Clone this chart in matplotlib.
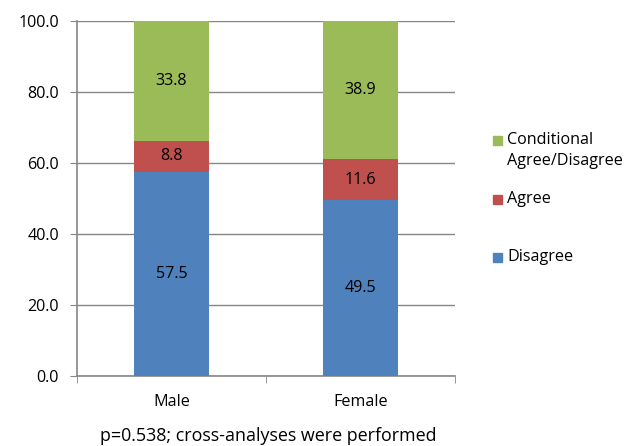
import numpy as np
import matplotlib.pyplot as plt
from matplotlib.patches import Rectangle

plt.rcParams['font.family'] = ['Open Sans', 'DejaVu Sans']

groups = ['Male', 'Female']
series = ['Disagree', 'Agree', 'Conditional\nAgree/Disagree']
disagree = [57.5, 49.5]
agree = [8.8, 11.6]
conditional = [33.8, 38.9]
colors = ['#4F81BD', '#C0504D', '#9BBB59']

values = [disagree, agree, conditional]
fs = 11.6

fig = plt.figure(figsize=(6.33, 4.46), dpi=100)
ax = fig.add_axes([0.1216, 0.157, 0.597, 0.796])

x = np.arange(len(groups))
bottom = np.zeros(len(groups))
for vals, col in zip(values, colors):
    vals = np.array(vals)
    ax.bar(x, vals, width=0.4, bottom=bottom, color=col, zorder=3)
    for xi, b, v in zip(x, bottom, vals):
        ax.text(xi, b + v / 2, f'{v:.1f}', ha='center', va='center',
                fontsize=fs, zorder=4)
    bottom += vals

ax.set_xlim(-0.5, len(groups) - 0.5)
ax.set_ylim(0, 100)
ax.set_yticks(np.arange(0, 101, 20))
ax.set_yticklabels([f'{t:.1f}' for t in np.arange(0, 101, 20)])
ax.set_xticks(x)
ax.set_xticklabels(groups)
ax.set_xticks([-0.5, 0.5, 1.5], minor=True)

ax.grid(axis='y', color='#868686', lw=1, zorder=0)
for side in ['top', 'right']:
    ax.spines[side].set_visible(False)
for side in ['left', 'bottom']:
    ax.spines[side].set_color('#868686')
    ax.spines[side].set_linewidth(1.2)

ax.tick_params(axis='y', direction='out', length=5, color='#868686',
               labelsize=fs, pad=8)
ax.tick_params(axis='x', which='major', length=0, labelsize=fs, pad=13)
ax.tick_params(axis='x', which='minor', direction='out', length=5,
               color='#868686')

# legend drawn by hand, top entry first
leg_y = [140 / 446, 199 / 446, 257 / 446]
for lab, col, yy in zip(series[::-1], colors[::-1], leg_y):
    y = 1 - yy
    fig.patches.append(Rectangle((493 / 633, y - 4.5 / 446), 9 / 633, 9 / 446,
                                 transform=fig.transFigure, color=col))
    fig.text(507 / 633, y, lab.split('\n')[0], va='center', fontsize=fs)
    if '\n' in lab:
        fig.text(507 / 633, y - 21 / 446, lab.split('\n')[1], va='center',
                 fontsize=fs)

fig.text(268 / 633, 1 - 436 / 446, 'p=0.538; cross-analyses were performed',
         ha='center', va='center', fontsize=12.9)

fig.savefig('out.png', dpi=100)
